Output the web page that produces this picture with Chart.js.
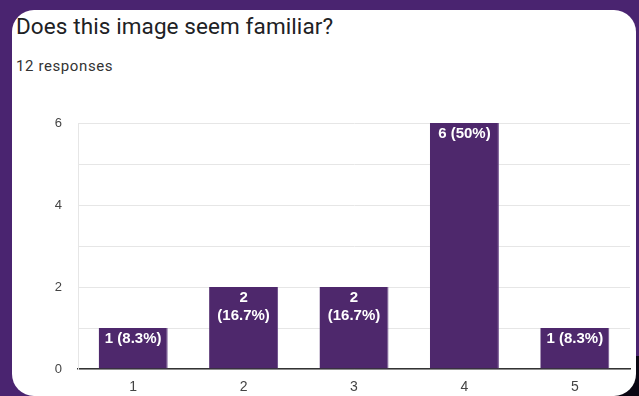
<!DOCTYPE html>
<html lang="en">
<head>
<meta charset="UTF-8">
<title>Does this image seem familiar?</title>
<script src="https://cdn.jsdelivr.net/npm/chart.js"></script>
<style>
    html, body { margin: 0; padding: 0; }
    body {
        width: 639px;
        height: 396px;
        background: #4a2470;
        position: relative;
        overflow: hidden;
        font-family: Roboto, Arial, sans-serif;
    }
    .sombra {
        position: absolute;
        right: 0;
        bottom: 0;
        width: 40px;
        height: 40px;
        background: #0a0612;
    }
    .card {
        position: absolute;
        left: 12px;
        top: 10px;
        width: 624px;
        height: 386px;
        background: #fff;
        border-radius: 22px;
    }
    .titulo {
        position: absolute;
        left: 16px;
        top: 13px;
        font-size: 22.5px;
        color: #202124;
        margin: 0;
        font-weight: 400;
        letter-spacing: 0.1px;
    }
    .respostas {
        position: absolute;
        left: 16px;
        top: 57px;
        font-size: 15px;
        color: #333333;
        font-weight: 400;
        letter-spacing: 0.6px;
    }
    .grafico {
        position: absolute;
        left: 0;
        top: 0;
        width: 639px;
        height: 396px;
    }
</style>
</head>
<body>
    <div class="sombra"></div>
    <div class="card"></div>
    <h1 class="titulo">Does this image seem familiar?</h1>
    <div class="respostas">12 responses</div>
    <div class="grafico"><canvas id="myChart" width="639" height="396"></canvas></div>

<script>
    // opções da escala de 1 a 5 e quantos votos cada uma recebeu
    var opcoes = ['1', '2', '3', '4', '5'];
    var votos = [1, 2, 2, 6, 1];
    var totalRespostas = 12;
    var marcasY = [0, 2, 4, 6];

    var roxo = '#4e286c';

    // escreve "n (x%)" dentro do topo de cada barra, quebrando a linha se não couber
    const rotulosBarras = {
        id: 'rotulosBarras',
        afterDatasetsDraw(chart) {
            const ctx = chart.ctx;
            const meta = chart.getDatasetMeta(0);
            ctx.save();
            ctx.fillStyle = '#ffffff';
            ctx.font = 'bold 15px Arial';
            ctx.textAlign = 'center';
            ctx.textBaseline = 'middle';
            meta.data.forEach(function (barra, i) {
                var valor = votos[i];
                var pct = Math.round(valor / totalRespostas * 1000) / 10;
                var texto = valor + ' (' + pct + '%)';
                var largura = barra.width;
                var linhas = [texto];
                if (ctx.measureText(texto).width > largura - 8) {
                    linhas = [String(valor), '(' + pct + '%)'];
                }
                linhas.forEach(function (linha, j) {
                    ctx.fillText(linha, barra.x, barra.y + 11 + j * 18);
                });
            });
            ctx.restore();
        }
    };

    let dados = {
        labels: opcoes,
        datasets: [{
            data: votos,
            backgroundColor: roxo,
            borderColor: '#6a4a88',
            borderWidth: { top: 0, left: 0, right: 1, bottom: 0 },
            barPercentage: 0.625,
            categoryPercentage: 1
        }]
    };

    const config = {
        type: 'bar',
        data: dados,
        plugins: [rotulosBarras],
        options: {
            responsive: false,
            animation: false,
            layout: { padding: { left: 48, right: 9, top: 123, bottom: 0 } },
            plugins: {
                legend: { display: false },
                tooltip: { enabled: false }
            },
            scales: {
                x: {
                    grid: { display: false, drawTicks: false },
                    border: { color: '#333333', width: 1.5 },
                    ticks: {
                        padding: 10,
                        color: '#444444',
                        font: { family: 'Arial', size: 14 }
                    },
                    afterFit: function (s) { s.height = 27; }
                },
                y: {
                    min: 0,
                    max: 6,
                    grid: { color: '#e6e6e6', drawTicks: false },
                    border: { color: '#e6e6e6' },
                    ticks: {
                        stepSize: 1,
                        padding: 16,
                        color: '#444444',
                        font: { family: 'Arial', size: 13 },
                        callback: function (v) { return marcasY.includes(v) ? v : ''; }
                    },
                    afterFit: function (s) { s.width = 30; }
                }
            }
        }
    };

    let myChart = new Chart(document.getElementById('myChart'), config);
</script>
</body>
</html>
